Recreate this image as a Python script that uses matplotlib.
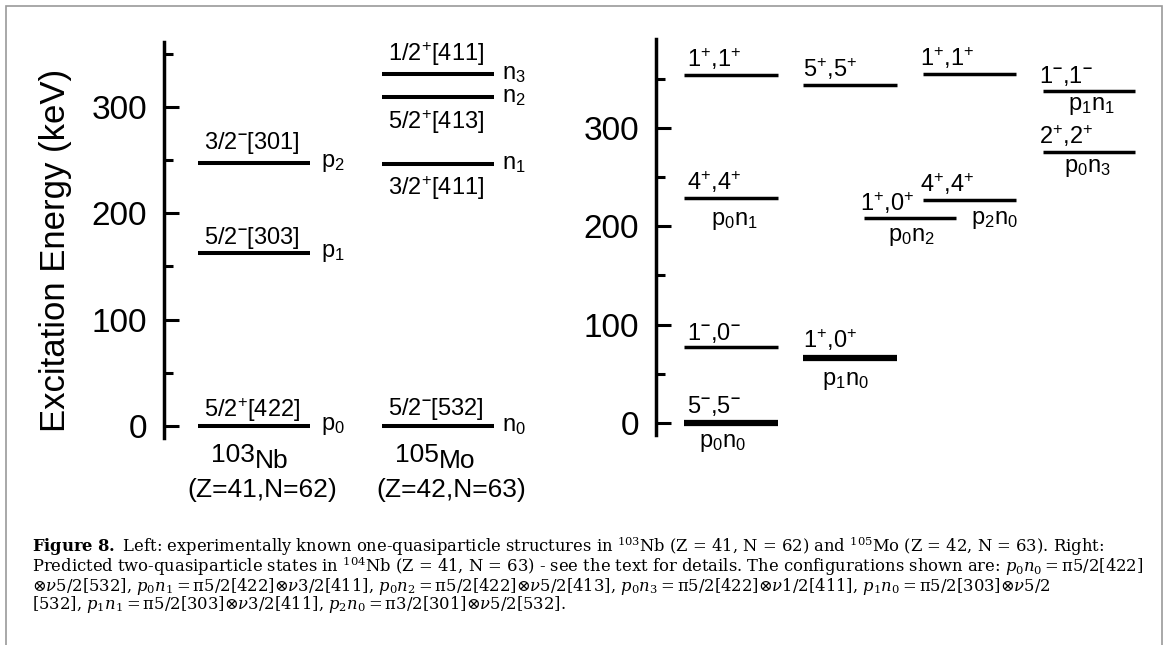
import re
import matplotlib.pyplot as plt
from matplotlib.patches import Rectangle

plt.rcParams["font.family"] = ["Liberation Sans", "DejaVu Sans"]
plt.rcParams["mathtext.fontset"] = "custom"
plt.rcParams["mathtext.rm"] = "Liberation Sans"
plt.rcParams["mathtext.sf"] = "Liberation Sans:bold"
plt.rcParams["mathtext.it"] = "DejaVu Serif:italic"
plt.rcParams["mathtext.bf"] = "DejaVu Serif:bold"

# 103Nb one-quasiproton levels (keV)
nb_energy = [0, 163, 247]
nb_orbital = ["5/2+[422]", "5/2-[303]", "3/2-[301]"]
nb_name = ["p0", "p1", "p2"]

# 105Mo one-quasineutron levels (keV)
mo_energy = [0, 246, 309, 331]
mo_orbital = ["5/2-[532]", "3/2+[411]", "5/2+[413]", "1/2+[411]"]
mo_name = ["n0", "n1", "n2", "n3"]

nucleus_mass = ["103", "105"]
nucleus_elem = ["Nb", "Mo"]
nucleus_zn = ["(Z=41,N=62)", "(Z=42,N=63)"]

# predicted two-quasiparticle states in 104Nb (keV), labelled I,K
tq_energy = [0, 77, 229, 354, 66, 344, 208, 227, 355, 338, 276]
tq_spin = ["5-,5-", "1-,0-", "4+,4+", "1+,1+", "1+,0+", "5+,5+",
           "1+,0+", "4+,4+", "1+,1+", "1-,1-", "2+,2+"]
tq_config = ["p0n0", "", "p0n1", "", "p1n0", "", "p0n2", "p2n0", "", "p1n1", "p0n3"]


def parity(s):
    # superscript parity signs; the minus is a short bold dash
    return s.replace("+", "$^{+}$").replace("-", "$^{\\mathsf{\u2013}}$")


def subs(s):
    return re.sub(r"(\d)", r"$_{\1}$", s)


def pn(s):
    # caption form of a configuration, e.g. p0n1 -> italic p_0 n_1 followed by '='
    return "$" + re.sub(r"([pn])(\d)", r"\1_{\\mathregular{\2}}", s) + r"\mathregular{=}$"


OT = r"$\mathregular{\otimes}\nu$"
caption = "\n".join([
    r"$\mathbf{Figure\ 8.}$ Left: experimentally known one-quasiparticle structures in "
    r"$^{\mathregular{103}}$Nb (Z = 41, N = 62) and $^{\mathregular{105}}$Mo (Z = 42, N = 63). Right:",
    r"Predicted two-quasiparticle states in $^{\mathregular{104}}$Nb (Z = 41, N = 63) - see the text "
    r"for details. The configurations shown are: " + pn("p0n0") + "π5/2[422]",
    OT + "5/2[532], " + pn("p0n1") + "π5/2[422]" + OT + "3/2[411], " + pn("p0n2") + "π5/2[422]"
    + OT + "5/2[413], " + pn("p0n3") + "π5/2[422]" + OT + "1/2[411], " + pn("p1n0")
    + "π5/2[303]" + OT + "5/2",
    "[532], " + pn("p1n1") + "π5/2[303]" + OT + "3/2[411], " + pn("p2n0") + "π3/2[301]"
    + OT + "5/2[532].",
])

W, H = 1165, 645
fig = plt.figure(figsize=(W / 100, H / 100), dpi=100)


def add_axes_px(left, right, top, bottom):
    ax = fig.add_axes([left / W, 1 - bottom / H, (right - left) / W, (bottom - top) / H])
    ax.set_xlim(left, right)
    ax.patch.set_visible(False)
    for side in ("top", "right", "bottom"):
        ax.spines[side].set_visible(False)
    ax.spines["left"].set_linewidth(2.5)
    ax.set_xticks([])
    ax.set_yticks([0, 100, 200, 300])
    ax.set_yticks([50, 150, 250, 350], minor=True)
    ax.tick_params(axis="y", which="major", direction="in", length=10.5, width=2.2,
                   pad=12, labelsize=24)
    ax.tick_params(axis="y", which="minor", direction="in", length=6.5, width=2.2)
    return ax


# ---- left: one-quasiparticle levels
axL = add_axes_px(164, 560, 42, 438)
axL.set_ylim(-11.3, 361)
axL.set_ylabel("Excitation Energy (keV)", fontsize=25, va="center")
axL.yaxis.set_label_coords(-109 / 396, 188 / 396)

nb_span = (198, 310)
mo_span = (382, 494)
nb_dy = [9, 9, 14]          # label offset in px, negative = below the level
mo_dy = [11, -10, -11, 13]

for span, energy, orbital, name, dy, ndx in [
        (nb_span, nb_energy, nb_orbital, nb_name, nb_dy, 11),
        (mo_span, mo_energy, mo_orbital, mo_name, mo_dy, 8)]:
    axL.hlines(energy, span[0], span[1], color="black", lw=2.9)
    mid = (span[0] + span[1]) / 2
    for e, orb, nm, d in zip(energy, orbital, name, dy):
        axL.annotate(parity(orb), (mid, e), xytext=(-2, d), textcoords="offset pixels",
                     ha="center", va="baseline" if d > 0 else "top", fontsize=17)
        axL.annotate(subs(nm), (span[1], e), xytext=(ndx, 0), textcoords="offset pixels",
                     ha="left", va="center", fontsize=17)

for span, mass, elem, zn, dx in zip([nb_span, mo_span], nucleus_mass, nucleus_elem,
                                    nucleus_zn, [8, 13]):
    mid = (span[0] + span[1]) / 2
    t = axL.text(mid + 1, -34, mass, ha="right", va="baseline", fontsize=19)
    axL.annotate(elem, xy=(1, 0), xycoords=t, xytext=(0, -6), textcoords="offset pixels",
                 ha="left", va="bottom", fontsize=19)
    axL.text(mid + dx, -66.5, zn, ha="center", va="baseline", fontsize=19)

# ---- right: two-quasiparticle states
axR = add_axes_px(656, 1150, 39, 435)
axR.set_ylim(-12.2, 390.5)

col_span = [(684, 778), (803, 897), (864, 956), (923, 1016), (1043, 1135)]
tq_col = [0, 0, 0, 0, 1, 1, 2, 3, 3, 4, 4]
tq_lw = [4.5, 2.5, 2.5, 2.5, 4.5, 2.5, 2.5, 2.5, 2.5, 2.5, 2.5]
spin_dx = [3, 0, -4, -3, -4]
cfg_dx = [-8, 0, 3, 0, -4, 0, 1, 25, 0, 2, -2]
cfg_dy = [24, 0, 27, 0, 27, 0, 23, 24, 0, 19, 20]

for e, spin, cfg, c, lw, cdx, cdy in zip(tq_energy, tq_spin, tq_config, tq_col, tq_lw,
                                         cfg_dx, cfg_dy):
    x0, x1 = col_span[c]
    axR.hlines(e, x0, x1, color="black", lw=lw)
    axR.annotate(parity(spin), (x0, e), xytext=(spin_dx[c], 10 if lw > 3 else 7.5),
                 textcoords="offset pixels", ha="left", va="baseline", fontsize=17)
    if cfg:
        axR.annotate(subs(cfg), ((x0 + x1) / 2, e), xytext=(cdx, -cdy),
                     textcoords="offset pixels", ha="center", va="baseline", fontsize=17)

# ---- caption (anchored on the baseline of its last line) and frame
fig.text(32 / W, 1 - 609 / H, caption, ha="left", va="baseline", linespacing=0.82,
         fontsize=11.8, family="DejaVu Serif")

fig.add_artist(Rectangle((5.5 / W, -0.05), (1162 - 5.5) / W, 1.05 - 6 / H,
                         transform=fig.transFigure, fill=False, ec="#9a9a9a", lw=1.2))

fig.savefig("out.png", dpi=100)
